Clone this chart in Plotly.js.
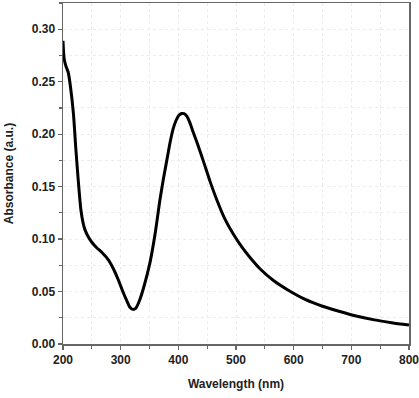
<!DOCTYPE html>
<html>
<head>
<meta charset="utf-8">
<script src="https://cdn.plot.ly/plotly-3.0.1.min.js"></script>
<style>html,body{margin:0;padding:0;background:#fff;overflow:hidden;}#chart{width:419px;height:398px;}</style>
</head>
<body>
<div id="chart"></div>
<script>
const wavelength = [200,202,205,209,213,218,222,226,231,235,238,244,250,258,268,279,288,296,303,310,316,321,326,333,341,351,360,368,374,380,386,391,396,401,406,410,415,420,425,433,443,455,467,480,495,510,525,542,565,590,620,650,680,710,740,770,800];
const absorbance = [0.289,0.272,0.265,0.259,0.245,0.220,0.188,0.159,0.128,0.115,0.109,0.102,0.097,0.092,0.087,0.080,0.071,0.061,0.051,0.042,0.035,0.033,0.034,0.042,0.056,0.078,0.106,0.137,0.157,0.175,0.193,0.205,0.213,0.218,0.2197,0.2195,0.217,0.211,0.203,0.191,0.175,0.155,0.137,0.120,0.105,0.0925,0.082,0.0715,0.0605,0.0515,0.0425,0.036,0.031,0.0265,0.023,0.0203,0.018];
const xTicks = [200,300,400,500,600,700,800];
const yTicks = [0,0.05,0.10,0.15,0.20,0.25,0.30];
const yTickText = ['0.00','0.05','0.10','0.15','0.20','0.25','0.30'];

const fontFam = 'Liberation Sans, Arial, sans-serif';
const trace = {
  x: wavelength, y: absorbance, type: 'scatter', mode: 'lines',
  line: {color: '#000', width: 3, shape: 'spline', smoothing: 0.7},
  hoverinfo: 'skip'
};
const axisCommon = {
  showline: true, linecolor: '#666', linewidth: 1.5, mirror: true,
  ticks: 'outside', ticklen: 4, tickwidth: 1.2, tickcolor: '#666',
  showgrid: true, gridcolor: '#ececec', griddash: 'dot', gridwidth: 1,
  zeroline: false, ticklabeloverflow: 'allow',
  tickfont: {family: fontFam, size: 12, color: '#222', weight: 700}
};
const layout = {
  width: 419, height: 398,
  margin: {l: 63, r: 10, t: 3, b: 54},
  paper_bgcolor: '#fff', plot_bgcolor: '#fff',
  showlegend: false,
  xaxis: Object.assign({}, axisCommon, {
    range: [200, 800], tickmode: 'array', tickvals: xTicks, ticktext: xTicks.map(String),
    minor: {dtick: 50, tick0: 200, ticks: 'outside', ticklen: 3, tickcolor: '#666', showgrid: true, gridcolor: '#ececec', griddash: 'dot'},
    title: {text: 'Wavelength (nm)', font: {family: fontFam, size: 12, color: '#222', weight: 700}, standoff: 13}
  }),
  yaxis: Object.assign({}, axisCommon, {
    range: [0, 0.325], tickmode: 'array', tickvals: yTicks, ticktext: yTickText,
    minor: {dtick: 0.025, tick0: 0, ticks: 'outside', ticklen: 3, tickcolor: '#666', showgrid: true, gridcolor: '#ececec', griddash: 'dot'},
    title: {text: 'Absorbance (a.u.)', font: {family: fontFam, size: 12, color: '#222', weight: 700}, standoff: 15}
  })
};
Plotly.newPlot('chart', [trace], layout, {displayModeBar: false, staticPlot: true});
</script>
</body>
</html>
